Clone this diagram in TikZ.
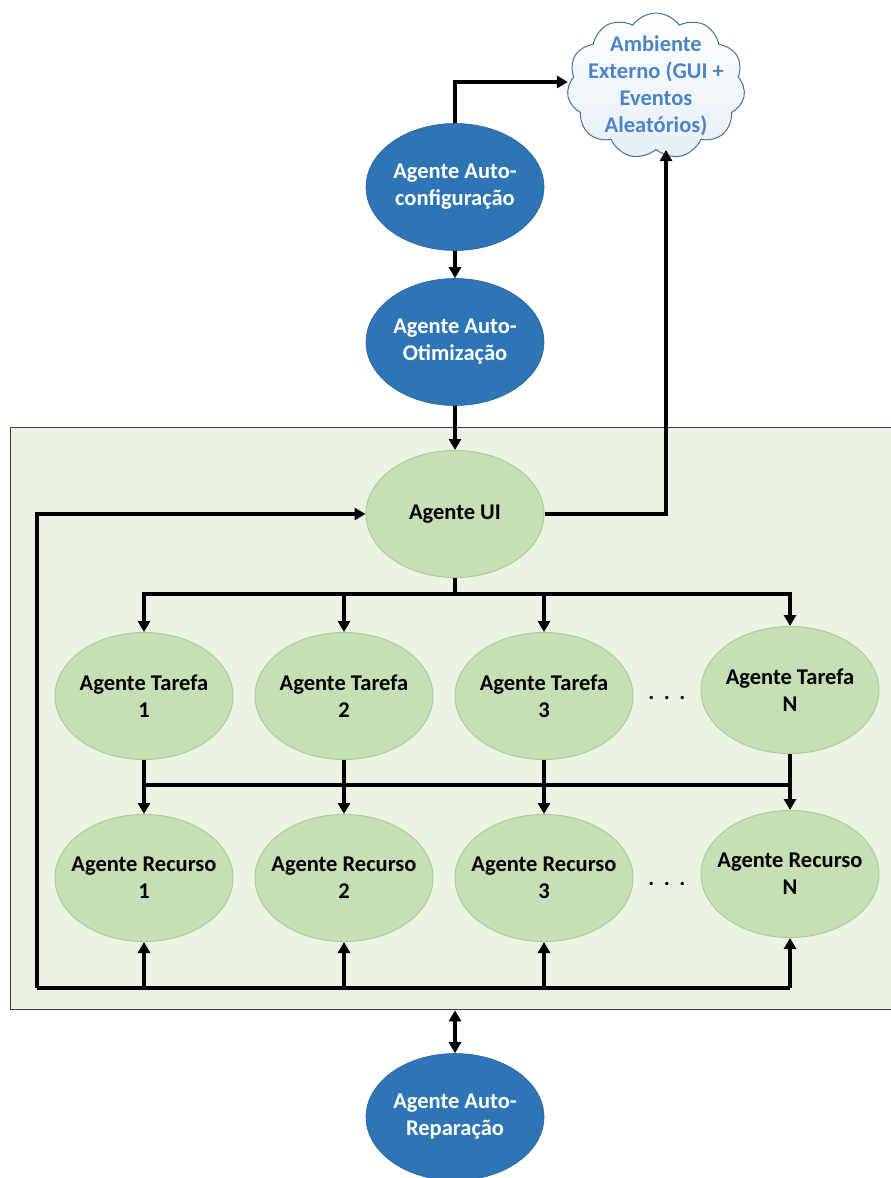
\documentclass[tikz,border=0pt]{standalone}
\usepackage{fontspec}
\setmainfont{Carlito}
\usetikzlibrary{shapes.geometric,shapes.symbols,arrows.meta}
\definecolor{agentblue}{HTML}{2E75B6}
\definecolor{agentgreen}{HTML}{C5E0B4}
\definecolor{agentgreenline}{HTML}{A9D18E}
\definecolor{systemfill}{HTML}{EBF3E5}
\definecolor{systemline}{HTML}{3C3C3C}
\definecolor{cloudline}{HTML}{41719C}
\definecolor{cloudfill}{HTML}{E6EEF7}
\definecolor{cloudtext}{HTML}{4A86C5}
\begin{document}
\begin{tikzpicture}[x=1pt,y=-1pt,
  font=\fontsize{22.5}{27}\selectfont\bfseries,
  wire/.style={line width=3.1pt},
  link/.style={wire,-{Triangle[length=11pt,width=12pt]}},
  biglink/.style={wire,{Triangle[length=11pt,width=12pt]}-{Triangle[length=11pt,width=12pt]}},
  agentshape/.style={ellipse,minimum width=178pt,minimum height=127pt,inner sep=-30pt,align=center},
  autoagent/.style={agentshape,fill=agentblue,draw=agentblue!85!black,line width=0.6pt,text=white},
  masagent/.style={agentshape,fill=agentgreen,draw=agentgreenline,line width=1pt,text=black},
  dots/.style={anchor=base,inner sep=0pt}
]
\useasboundingbox (0,0) rectangle (891,1178);
\clip (0,0) rectangle (891,1178);

% multi-agent system area
\node[draw=systemline,fill=systemfill,line width=1.3pt,anchor=north west,
      minimum width=900pt,minimum height=582pt,inner sep=0pt] (sys) at (10,427) {};

% external environment
\node[cloud,cloud puffs=11,cloud puff arc=110,aspect=1.2,
      minimum width=178pt,minimum height=146pt,inner sep=-40pt,
      draw=cloudline,line width=1pt,top color=white,bottom color=cloudfill,
      text=cloudtext,align=center] (cloud) at (656,86)
      {Ambiente\\Externo (GUI +\\Eventos\\Aleatórios)};

% autonomic agents
\node[autoagent] (cfg) at (455,187) {Agente Auto-\\configuração};
\node[autoagent] (opt) at (455,342) {Agente Auto-\\Otimização};
\node[autoagent] (rep) at (455,1117) {Agente Auto-\\Reparação};

% interface agent
\node[masagent] (ui) at (455,514) {Agente UI};

% task agents
\node[masagent] (t1) at (144,696) {Agente Tarefa\\1};
\node[masagent] (t2) at (344,696) {Agente Tarefa\\2};
\node[masagent] (t3) at (544,696) {Agente Tarefa\\3};
\node[masagent] (tn) at (790,690) {Agente Tarefa\\N};

% resource agents
\node[masagent] (r1) at (144,878) {Agente Recurso\\1};
\node[masagent] (r2) at (344,878) {Agente Recurso\\2};
\node[masagent] (r3) at (544,878) {Agente Recurso\\3};
\node[masagent] (rn) at (790,874) {Agente Recurso\\N};

\node[dots] (tdots) at (667,699) {.\hspace{9.5pt}.\hspace{9.5pt}.};
\node[dots] (rdots) at (667,885) {.\hspace{9.5pt}.\hspace{9.5pt}.};

% top chain
\draw[link] (cfg.north) |- ([yshift=4pt]cloud.west);
\draw[link] (cfg.south) -- (opt.north);
\draw[link] (opt.south) -- (ui.north);
\draw[link] (ui.east) -| ([xshift=10pt]cloud.south);

% UI to task agents
\draw[wire] (ui.south) -- ++(0,16) coordinate (fan);
\foreach \t in {t1,t2,t3,tn} \draw[link] (fan) -| (\t.north);

% task agents to resource agents
\draw[wire] (t1.south) -- ++(0,25) coordinate (bar);
\draw[wire] (bar) -- (bar -| tn.south);
\draw[link] (t1.south) -- (r1.north);
\draw[link] (t2.south) -- (r2.north);
\draw[link] (t3.south) -- (r3.north);
\draw[link] (tn.south) -- (rn.north);

% feedback bus
\coordinate (bus) at (37,988);
\draw[wire] (bus) -- (bus -| rn.south);
\draw[link] (bus) |- (ui.west);
\foreach \r in {r1,r2,r3,rn} \draw[link] (bus -| \r.south) -- (\r.south);

% self-healing link
\draw[biglink] (rep.north |- sys.south) -- (rep.north);
\end{tikzpicture}
\end{document}
